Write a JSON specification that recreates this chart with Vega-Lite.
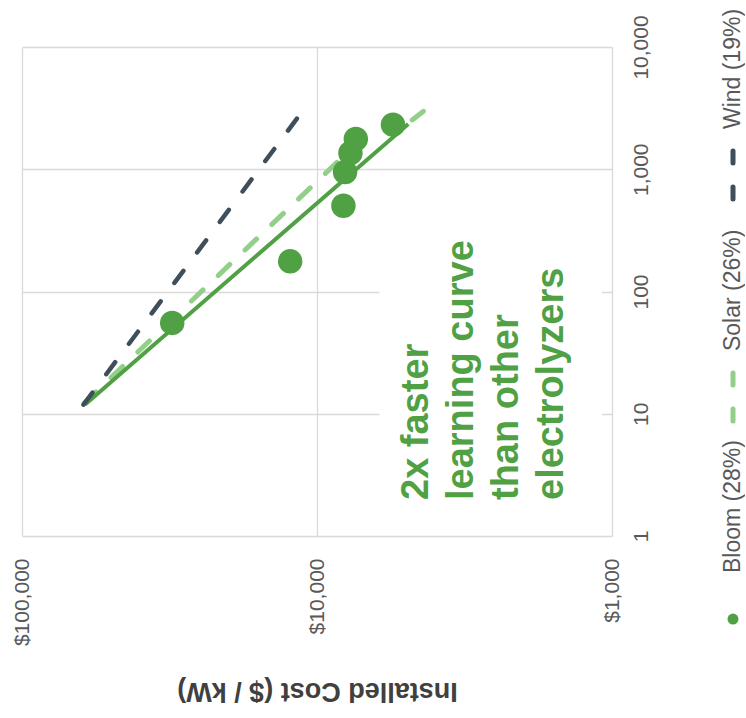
{
  "$schema": "https://vega.github.io/schema/vega-lite/v6.json",
  "background": "white",
  "padding": {"left": 11, "top": 8, "right": 0, "bottom": 0},
  "autosize": {"type": "pad"},
  "bounds": "flush",
  "spacing": 111,
  "config": {
    "font": "Liberation Sans",
    "view": {"stroke": null},
    "axis": {
      "grid": true,
      "gridColor": "#d9d9d9",
      "gridWidth": 1.3,
      "domain": false,
      "ticks": false,
      "labelFont": "Liberation Sans",
      "labelFontSize": 21,
      "labelColor": "#595959"
    }
  },
  "resolve": {"scale": {"x": "independent", "y": "independent", "color": "independent"}},
  "datasets": {
    "lines": [
      {"series": "Solar", "cost": 61520, "cap": 12.24},
      {"series": "Solar", "cost": 6400, "cap": 2217},
      {"series": "Bloom", "cost": 61070, "cap": 11.9},
      {"series": "Bloom", "cost": 4904, "cap": 2345},
      {"series": "Projection", "cost": 4757, "cap": 2530},
      {"series": "Projection", "cost": 4355, "cap": 2979},
      {"series": "Wind", "cost": 61870, "cap": 11.86},
      {"series": "Wind", "cost": 11700, "cap": 2594}
    ],
    "points": [
      {"cost": 30960, "cap": 55.3},
      {"cost": 12330, "cap": 176.6},
      {"cost": 8138, "cap": 503},
      {"cost": 8032, "cap": 950},
      {"cost": 7703, "cap": 1358},
      {"cost": 7386, "cap": 1768},
      {"cost": 5527, "cap": 2315}
    ],
    "box": [{"cost1": 6150, "cost2": 1080, "cap1": 1.7, "cap2": 300}],
    "note": [{"cost": 5303, "cap": 1.97, "text": "2x faster|learning curve|than other|electrolyzers"}],
    "legend": [
      {"series": "Bloom", "label": "Bloom (28%)", "rank": 1},
      {"series": "Solar", "label": "Solar (26%)", "rank": 2},
      {"series": "Wind", "label": "Wind (19%)", "rank": 3}
    ]
  },
  "hconcat": [
    {
      "width": 590,
      "height": 489,
      "layer": [
        {
          "data": {"name": "box"},
          "mark": {"type": "rect", "color": "white", "opacity": 1},
          "encoding": {
            "x": {
              "field": "cost1", "type": "quantitative",
              "scale": {"type": "log", "domain": [1000, 100000], "reverse": true, "nice": false},
              "axis": {
                "orient": "bottom",
                "values": [1000, 10000, 100000],
                "format": "$,.0f",
                "labelAngle": 270,
                "labelAlign": "right",
                "labelBaseline": "middle",
                "labelPadding": 22,
                "title": "Installed Cost ($ / kW)",
                "titleAngle": 180,
                "titleBaseline": "bottom",
                "titleFontSize": 27,
                "titleFontWeight": "bold",
                "titleColor": "#404040",
                "titlePadding": 31
              }
            },
            "x2": {"field": "cost2"},
            "y": {
              "field": "cap1", "type": "quantitative",
              "scale": {"type": "log", "domain": [1, 10000], "nice": false},
              "axis": {
                "orient": "right",
                "values": [1, 10, 100, 1000, 10000],
                "format": ",.0f",
                "labelAngle": 270,
                "labelAlign": "center",
                "labelBaseline": "top",
                "labelPadding": 18,
                "title": null
              }
            },
            "y2": {"field": "cap2"}
          }
        },
        {
          "data": {"name": "lines"},
          "transform": [{"filter": "datum.series === 'Solar'"}],
          "mark": {"type": "line", "color": "#92d08a", "strokeWidth": 5, "strokeDash": [16, 21], "strokeCap": "round"},
          "encoding": {
            "x": {"field": "cost", "type": "quantitative"},
            "y": {"field": "cap", "type": "quantitative"},
            "order": {"value": null}
          }
        },
        {
          "data": {"name": "lines"},
          "transform": [{"filter": "datum.series === 'Bloom'"}],
          "mark": {"type": "line", "color": "#50a044", "strokeWidth": 4},
          "encoding": {
            "x": {"field": "cost", "type": "quantitative"},
            "y": {"field": "cap", "type": "quantitative"},
            "order": {"value": null}
          }
        },
        {
          "data": {"name": "lines"},
          "transform": [{"filter": "datum.series === 'Projection'"}],
          "mark": {"type": "line", "color": "#92d08a", "strokeWidth": 5, "strokeCap": "round"},
          "encoding": {
            "x": {"field": "cost", "type": "quantitative"},
            "y": {"field": "cap", "type": "quantitative"},
            "order": {"value": null}
          }
        },
        {
          "data": {"name": "lines"},
          "transform": [{"filter": "datum.series === 'Wind'"}],
          "mark": {"type": "line", "color": "#3f4e5b", "strokeWidth": 4.5, "strokeDash": [15, 23], "strokeCap": "round"},
          "encoding": {
            "x": {"field": "cost", "type": "quantitative"},
            "y": {"field": "cap", "type": "quantitative"},
            "order": {"value": null}
          }
        },
        {
          "data": {"name": "points"},
          "mark": {"type": "circle", "size": 600, "color": "#50a044", "opacity": 1},
          "encoding": {
            "x": {"field": "cost", "type": "quantitative"},
            "y": {"field": "cap", "type": "quantitative"}
          }
        },
        {
          "data": {"name": "note"},
          "mark": {
            "type": "text", "angle": 270, "align": "left", "baseline": "top",
            "lineBreak": "|", "lineHeight": 45, "fontSize": 38, "fontWeight": "bold",
            "color": "#50a044"
          },
          "encoding": {
            "x": {"field": "cost", "type": "quantitative"},
            "y": {"field": "cap", "type": "quantitative"},
            "text": {"field": "text"}
          }
        }
      ]
    },
    {
      "width": 20,
      "height": 489,
      "data": {"name": "legend"},
      "encoding": {
        "y": {"field": "rank", "type": "quantitative", "scale": {"domain": [1.374, 3.577], "nice": false, "zero": false}, "axis": null}
      },
      "layer": [
        {
          "transform": [{"filter": "datum.series === 'Bloom'"}],
          "mark": {"type": "circle", "size": 120, "color": "#50a044", "opacity": 1}
        },
        {
          "transform": [{"filter": "datum.series !== 'Bloom'"}],
          "mark": {"type": "point", "shape": "stroke", "angle": 90, "filled": false, "strokeWidth": 5, "strokeCap": "round", "strokeDash": [12, 24], "size": 2304, "opacity": 1},
          "encoding": {
            "color": {"field": "series", "type": "nominal", "scale": {"domain": ["Solar", "Wind"], "range": ["#92d08a", "#3f4e5b"]}, "legend": null}
          }
        },
        {
          "mark": {"type": "text", "angle": 270, "align": "left", "baseline": "middle", "dx": 46, "fontSize": 23, "color": "#595959"},
          "encoding": {"text": {"field": "label"}}
        }
      ]
    }
  ]
}
